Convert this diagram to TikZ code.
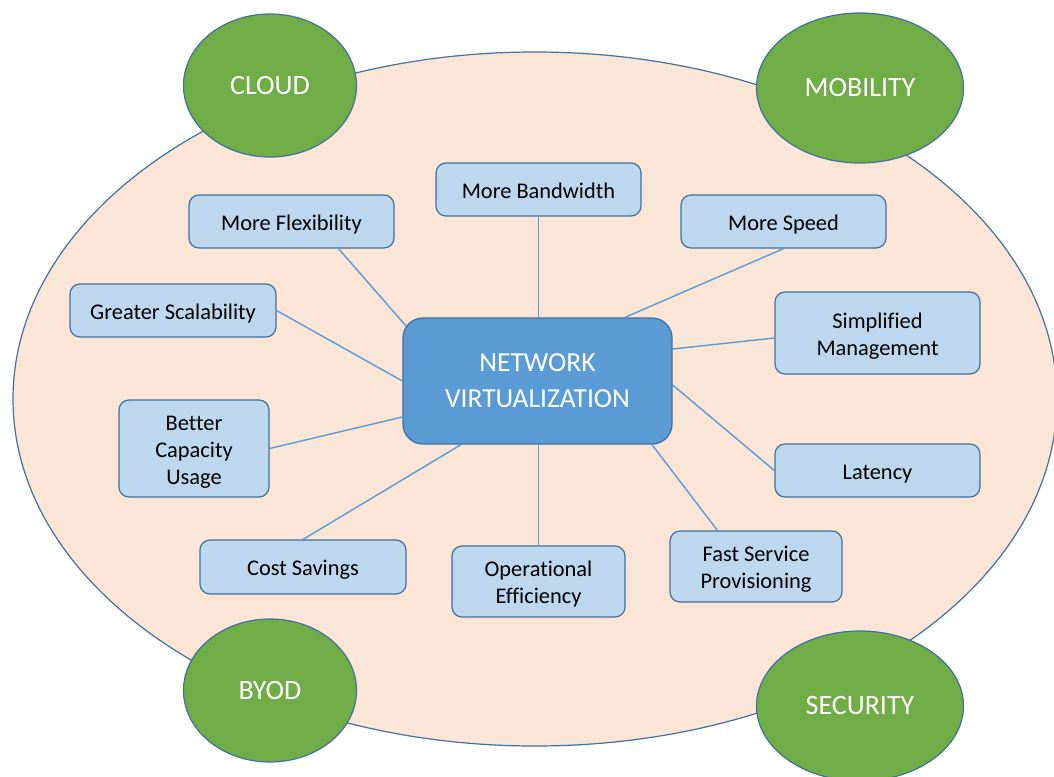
\documentclass[tikz,border=0pt]{standalone}
\usepackage{fontspec}
\setmainfont{Carlito}[Ligatures=CommonOff]
\usetikzlibrary{shapes.geometric,calc}
\definecolor{fieldfill}{HTML}{FBE5D6}
\definecolor{edgeblue}{HTML}{41719C}
\definecolor{linkblue}{HTML}{5B9BD5}
\definecolor{hubfill}{HTML}{5B9BD5}
\definecolor{boxfill}{HTML}{BDD7EE}
\definecolor{leafgreen}{HTML}{70AD47}
% fixed line extents so every label is centred by its lines, not by its glyphs
\newcommand\topstrut{\rule{0pt}{23.4pt}}
\newcommand\botstrut{\rule[-5.6pt]{0pt}{5.6pt}}
\tikzset{
  field/.style={ellipse, draw=edgeblue, fill=fieldfill, line width=1.2pt, inner sep=0pt},
  trend/.style={ellipse, draw=edgeblue, fill=leafgreen, line width=1.2pt, inner sep=0pt,
    text=white, font=\fontsize{28}{34}\selectfont},
  hub/.style={rectangle, rounded corners=20pt, draw=edgeblue, fill=hubfill, line width=1.3pt,
    inner sep=0pt, text=white, align=center, font=\fontsize{27.5}{36}\selectfont},
  benefit/.style={rectangle, rounded corners=10pt, draw=edgeblue, fill=boxfill, line width=1.2pt,
    inner sep=0pt, text=black, align=center, font=\fontsize{22.4}{27}\selectfont,
    execute at begin node=\topstrut, execute at end node=\botstrut},
  link/.style={draw=linkblue, line width=1.4pt}
}
\begin{document}
\begin{tikzpicture}[x=1pt,y=-1pt]
\useasboundingbox (0,0) rectangle (1054,776);

% background field
\node[field, minimum width=1044pt, minimum height=694pt] (fld) at (535,399) {};

% four trend ellipses
\node[trend, minimum width=173pt, minimum height=143pt] (cloud) at (270,85.5) {CLOUD};
\node[trend, minimum width=207pt, minimum height=150pt] (mob) at (860,88) {MOBILITY};
\node[trend, minimum width=173pt, minimum height=143pt] (byod) at (270,690.5) {BYOD};
\node[trend, minimum width=207pt, minimum height=150pt] (sec) at (860,706) {SECURITY};

% central hub
\node[hub, minimum width=269pt, minimum height=126pt] (nv) at (537.5,381) {NETWORK\\VIRTUALIZATION};

% benefits (multi-line labels carry their struts on the first and last line)
\node[benefit, minimum width=205pt, minimum height=53pt] (bw) at (538.5,189.5) {More Bandwidth};
\node[benefit, minimum width=205pt, minimum height=53pt] (flex) at (291.5,221.5) {More Flexibility};
\node[benefit, minimum width=205pt, minimum height=53pt] (speed) at (783.5,221.5) {More Speed};
\node[benefit, minimum width=206pt, minimum height=53pt] (scal) at (173,310.5) {Greater Scalability};
\node[benefit, minimum width=205pt, minimum height=82pt] (simp) at (877.5,333) {\topstrut Simplified\\Management\botstrut};
\node[benefit, minimum width=150pt, minimum height=97pt] (cap) at (194,448.5) {\topstrut Better\\Capacity\\Usage\botstrut};
\node[benefit, minimum width=205pt, minimum height=53pt] (lat) at (877.5,470.5) {Latency};
\node[benefit, minimum width=206pt, minimum height=54pt] (cost) at (303,567) {Cost Savings};
\node[benefit, minimum width=173pt, minimum height=71pt] (ops) at (538.5,581.5) {\topstrut Operational\\Efficiency\botstrut};
\node[benefit, minimum width=172pt, minimum height=71pt] (fast) at (756,566.5) {\topstrut Fast Service\\Provisioning\botstrut};

% connectors
\draw[link] (bw.south) -- (bw.south |- nv.north);
\draw[link] ($(flex.south)+(47,0)$) -- ($(nv.north west)+(4,9)$);
\draw[link] (speed.south) -- ($(nv.north)+(87.5,0)$);
\draw[link] (scal.east) -- (nv.west);
\draw[link] (cap.east) -- ($(nv.west)+(0,36)$);
\draw[link] (cost.north) -- ($(nv.south)+(-76.5,0)$);
\draw[link] (ops.north) -- (ops.north |- nv.south);
\draw[link] ($(fast.north west)+(48,0)$) -- ($(nv.south)+(114.5,0)$);
\draw[link] (lat.west) -- ($(nv.east)+(0,4)$);
\draw[link] ($(simp.west)+(0,5)$) -- ($(nv.east)+(0,-32)$);
\end{tikzpicture}
\end{document}
